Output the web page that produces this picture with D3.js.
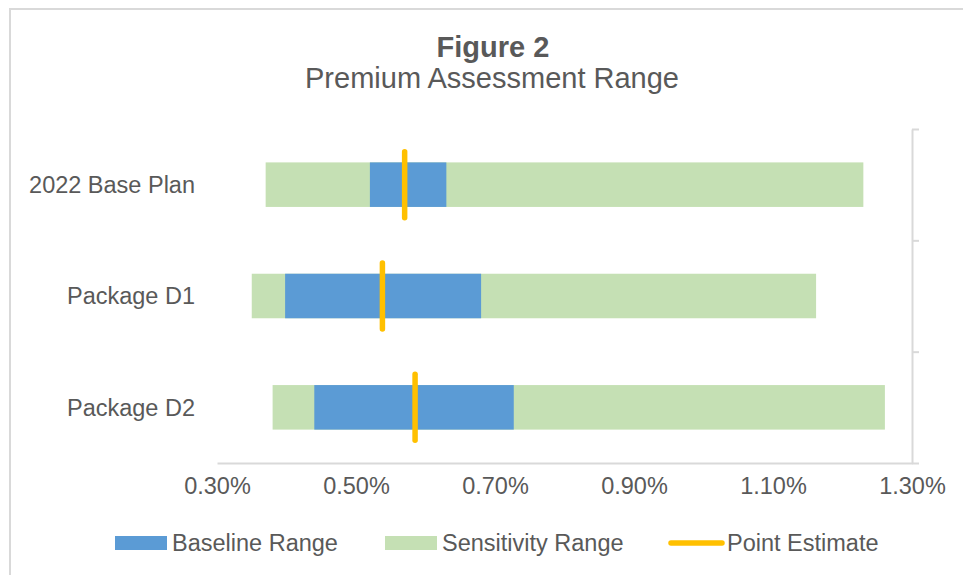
<!DOCTYPE html>
<html>
<head>
<meta charset="utf-8">
<script src="https://cdn.jsdelivr.net/npm/d3@7"></script>
<style>
  body { margin: 0; background: #fff; }
  svg { display: block; font-family: "Liberation Sans", Arial, sans-serif; }
</style>
</head>
<body>
<div id="chart"></div>
<script>
// Chart data (values in %)
const categories = ["2022 Base Plan", "Package D1", "Package D2"];
const sensLow = [0.37, 0.35, 0.38];
const sensHigh = [1.23, 1.162, 1.261];
const baseLow = [0.52, 0.398, 0.44];
const baseHigh = [0.63, 0.68, 0.727];
const pointEst = [0.57, 0.538, 0.585];
const xTicks = [0.3, 0.5, 0.7, 0.9, 1.1, 1.3];
const legendItems = ["Baseline Range", "Sensitivity Range", "Point Estimate"];

const W = 963, H = 575;
const textColor = "#595959";
const gridColor = "#d9d9d9";
const blue = "#5b9bd5", green = "#c5e0b4", orange = "#ffc000";

const plot = { left: 217, right: 912, top: 129, bottom: 463 };

const svg = d3.select("#chart").append("svg")
  .attr("width", W)
  .attr("height", H);

// outer chart border
svg.append("rect")
  .attr("x", 10).attr("y", 9)
  .attr("width", 1200).attr("height", 1200)
  .attr("fill", "#fff")
  .attr("stroke", gridColor)
  .attr("stroke-width", 2);

// Titles
svg.append("text")
  .attr("x", 493).attr("y", 57)
  .attr("text-anchor", "middle")
  .style("font-size", "29px")
  .style("font-weight", "bold")
  .attr("fill", textColor)
  .text("Figure 2");

svg.append("text")
  .attr("x", 492).attr("y", 88)
  .attr("text-anchor", "middle")
  .style("font-size", "29px")
  .attr("fill", textColor)
  .text("Premium Assessment Range");

// Scales
const x = d3.scaleLinear()
  .domain([xTicks[0], xTicks[xTicks.length - 1]])
  .range([plot.left, plot.right]);

const y = d3.scaleBand()
  .domain(categories)
  .range([plot.top, plot.bottom])
  .paddingInner(0.6)
  .paddingOuter(0.3);

// Bottom axis (no tick marks)
const xAxis = svg.append("g")
  .attr("transform", `translate(0,${plot.bottom})`)
  .call(d3.axisBottom(x)
    .tickValues(xTicks)
    .tickSize(0)
    .tickPadding(14)
    .tickFormat(d => d3.format(".2f")(d) + "%"));
xAxis.select(".domain").attr("stroke", gridColor).attr("stroke-width", 2);
xAxis.selectAll("text")
  .attr("fill", textColor)
  .style("font-size", "23.5px")
  .style("font-family", "'Liberation Sans', Arial, sans-serif")
  .attr("dy", "0.71em");

// Right (secondary) axis with outward ticks at band edges
const yEdges = d3.scaleLinear()
  .domain([0, categories.length])
  .range([plot.top, plot.bottom]);
const rAxis = svg.append("g")
  .attr("transform", `translate(${plot.right},0)`)
  .call(d3.axisRight(yEdges)
    .tickValues(d3.range(categories.length + 1))
    .tickSize(7)
    .tickSizeOuter(0)
    .tickFormat(""));
rAxis.select(".domain").attr("stroke", gridColor).attr("stroke-width", 2);
rAxis.selectAll(".tick line").attr("stroke", gridColor).attr("stroke-width", 2);

// Category labels
svg.append("g").selectAll("text")
  .data(categories)
  .join("text")
  .attr("x", 195)
  .attr("y", d => y(d) + y.bandwidth() / 2)
  .attr("dy", "0.35em")
  .attr("text-anchor", "end")
  .style("font-size", "23.5px")
  .attr("fill", textColor)
  .text(d => d);

// Sensitivity range bars
svg.append("g").selectAll("rect")
  .data(categories)
  .join("rect")
  .attr("x", (d, i) => x(sensLow[i]))
  .attr("y", d => y(d))
  .attr("width", (d, i) => x(sensHigh[i]) - x(sensLow[i]))
  .attr("height", y.bandwidth())
  .attr("fill", green);

// Baseline range bars
svg.append("g").selectAll("rect")
  .data(categories)
  .join("rect")
  .attr("x", (d, i) => x(baseLow[i]))
  .attr("y", d => y(d))
  .attr("width", (d, i) => x(baseHigh[i]) - x(baseLow[i]))
  .attr("height", y.bandwidth())
  .attr("fill", blue);

// Point estimate markers
svg.append("g").selectAll("line")
  .data(categories)
  .join("line")
  .attr("x1", (d, i) => x(pointEst[i]))
  .attr("x2", (d, i) => x(pointEst[i]))
  .attr("y1", d => y(d) + y.bandwidth() / 2 - 33)
  .attr("y2", d => y(d) + y.bandwidth() / 2 + 33)
  .attr("stroke", orange)
  .attr("stroke-width", 5.5)
  .attr("stroke-linecap", "round");

// Legend
const legendY = 543;
const legendPos = [
  { sx: 115, tx: 172 },
  { sx: 385, tx: 442 },
  { sx: 668, tx: 727 }
];
const legend = svg.append("g");
legendItems.forEach((name, i) => {
  const p = legendPos[i];
  if (i < 2) {
    legend.append("rect")
      .attr("x", p.sx).attr("y", legendY - 7)
      .attr("width", 52).attr("height", 14)
      .attr("fill", i === 0 ? blue : green);
  } else {
    legend.append("line")
      .attr("x1", p.sx + 3).attr("x2", p.sx + 54)
      .attr("y1", legendY).attr("y2", legendY)
      .attr("stroke", orange)
      .attr("stroke-width", 5.5)
      .attr("stroke-linecap", "round");
  }
  legend.append("text")
    .attr("x", p.tx).attr("y", legendY)
    .attr("dy", "0.35em")
    .style("font-size", "23.5px")
    .attr("fill", textColor)
    .text(name);
});
</script>
</body>
</html>
